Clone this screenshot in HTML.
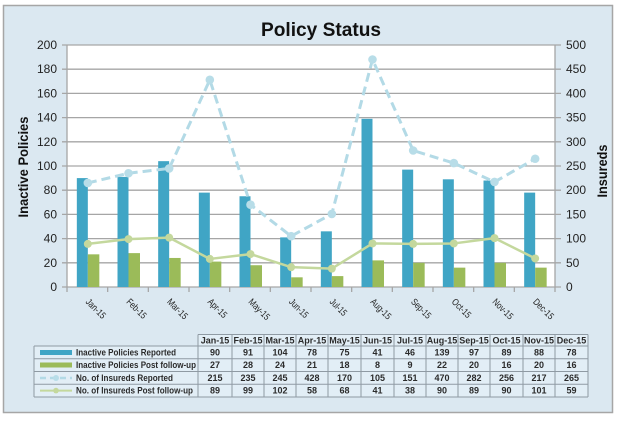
<!DOCTYPE html>
<html>
<head>
<meta charset="utf-8">
<style>
html,body{margin:0;padding:0;background:#ffffff;}
svg{display:block;}
text{font-family:"Liberation Sans",Arial,sans-serif;}
</style>
</head>
<body>
<svg width="620" height="424" viewBox="0 0 620 424" xmlns="http://www.w3.org/2000/svg">
  <rect x="0" y="0" width="620" height="424" fill="#ffffff"/>
  <rect x="3.5" y="5.5" width="609" height="407" fill="#dbe8f1" stroke="#a6a6a6" stroke-width="1.5"/>

  <!-- Title -->
  <text x="321" y="36" text-anchor="middle" font-size="19.5" font-weight="bold" fill="#111" textLength="120" lengthAdjust="spacingAndGlyphs">Policy Status</text>

  <!-- Plot area -->
  <rect x="67" y="45" width="488" height="242" fill="#ffffff"/>
  <g stroke="#a6a6a6" stroke-width="1.3">
    <line x1="62" y1="287" x2="561" y2="287"/>
    <line x1="62" y1="262.8" x2="561" y2="262.8"/>
    <line x1="62" y1="238.6" x2="561" y2="238.6"/>
    <line x1="62" y1="214.4" x2="561" y2="214.4"/>
    <line x1="62" y1="190.2" x2="561" y2="190.2"/>
    <line x1="62" y1="166" x2="561" y2="166"/>
    <line x1="62" y1="141.8" x2="561" y2="141.8"/>
    <line x1="62" y1="117.6" x2="561" y2="117.6"/>
    <line x1="62" y1="93.4" x2="561" y2="93.4"/>
    <line x1="62" y1="69.2" x2="561" y2="69.2"/>
    <line x1="62" y1="45" x2="561" y2="45"/>
    <line x1="67" y1="45" x2="67" y2="287"/>
    <line x1="555" y1="45" x2="555" y2="287"/>
    <!-- x ticks -->
    <line x1="67" y1="287" x2="67" y2="292"/>
    <line x1="107.67" y1="287" x2="107.67" y2="292"/>
    <line x1="148.33" y1="287" x2="148.33" y2="292"/>
    <line x1="189" y1="287" x2="189" y2="292"/>
    <line x1="229.67" y1="287" x2="229.67" y2="292"/>
    <line x1="270.33" y1="287" x2="270.33" y2="292"/>
    <line x1="311" y1="287" x2="311" y2="292"/>
    <line x1="351.67" y1="287" x2="351.67" y2="292"/>
    <line x1="392.33" y1="287" x2="392.33" y2="292"/>
    <line x1="433" y1="287" x2="433" y2="292"/>
    <line x1="473.67" y1="287" x2="473.67" y2="292"/>
    <line x1="514.33" y1="287" x2="514.33" y2="292"/>
    <line x1="555" y1="287" x2="555" y2="292"/>
  </g>

  <!-- Left tick labels -->
  <g font-size="12" fill="#222" text-anchor="end">
    <text x="57" y="291">0</text>
    <text x="57" y="266.8">20</text>
    <text x="57" y="242.6">40</text>
    <text x="57" y="218.4">60</text>
    <text x="57" y="194.2">80</text>
    <text x="57" y="170">100</text>
    <text x="57" y="145.8">120</text>
    <text x="57" y="121.6">140</text>
    <text x="57" y="97.4">160</text>
    <text x="57" y="73.2">180</text>
    <text x="57" y="49">200</text>
  </g>
  <!-- Right tick labels -->
  <g font-size="12" fill="#222" text-anchor="start">
    <text x="566" y="291">0</text>
    <text x="566" y="266.8">50</text>
    <text x="566" y="242.6">100</text>
    <text x="566" y="218.4">150</text>
    <text x="566" y="194.2">200</text>
    <text x="566" y="170">250</text>
    <text x="566" y="145.8">300</text>
    <text x="566" y="121.6">350</text>
    <text x="566" y="97.4">400</text>
    <text x="566" y="73.2">450</text>
    <text x="566" y="49">500</text>
  </g>

  <!-- Axis titles -->
  <text transform="translate(28,167) rotate(-90)" text-anchor="middle" font-size="14" font-weight="bold" fill="#111" textLength="101" lengthAdjust="spacingAndGlyphs">Inactive Policies</text>
  <text transform="translate(607,171) rotate(-90)" text-anchor="middle" font-size="14" font-weight="bold" fill="#111" textLength="53" lengthAdjust="spacingAndGlyphs">Insureds</text>

  <!-- Blue bars -->
  <g fill="#40a5c5">
    <rect x="76.83" y="178.1" width="11" height="108.9"/>
    <rect x="117.5" y="176.89" width="11" height="110.11"/>
    <rect x="158.17" y="161.16" width="11" height="125.84"/>
    <rect x="198.83" y="192.62" width="11" height="94.38"/>
    <rect x="239.5" y="196.25" width="11" height="90.75"/>
    <rect x="280.17" y="237.39" width="11" height="49.61"/>
    <rect x="320.83" y="231.34" width="11" height="55.66"/>
    <rect x="361.5" y="118.81" width="11" height="168.19"/>
    <rect x="402.17" y="169.63" width="11" height="117.37"/>
    <rect x="442.83" y="179.31" width="11" height="107.69"/>
    <rect x="483.5" y="180.52" width="11" height="106.48"/>
    <rect x="524.17" y="192.62" width="11" height="94.38"/>
  </g>
  <!-- Green bars -->
  <g fill="#9bbb59">
    <rect x="87.83" y="254.33" width="11.5" height="32.67"/>
    <rect x="128.5" y="253.12" width="11.5" height="33.88"/>
    <rect x="169.17" y="257.96" width="11.5" height="29.04"/>
    <rect x="209.83" y="261.59" width="11.5" height="25.41"/>
    <rect x="250.5" y="265.22" width="11.5" height="21.78"/>
    <rect x="291.17" y="277.32" width="11.5" height="9.68"/>
    <rect x="331.83" y="276.11" width="11.5" height="10.89"/>
    <rect x="372.5" y="260.38" width="11.5" height="26.62"/>
    <rect x="413.17" y="262.8" width="11.5" height="24.2"/>
    <rect x="453.83" y="267.64" width="11.5" height="19.36"/>
    <rect x="494.5" y="262.8" width="11.5" height="24.2"/>
    <rect x="535.17" y="267.64" width="11.5" height="19.36"/>
  </g>

  <!-- Insureds Reported dashed line -->
  <polyline fill="none" stroke="#b3dae6" stroke-width="3" stroke-dasharray="9,5" stroke-linejoin="round"
    points="87.83,182.94 128.5,173.26 169.17,168.42 209.83,79.85 250.5,204.72 291.17,236.18 331.83,213.92 372.5,59.52 413.17,150.51 453.83,163.1 494.5,181.97 535.17,158.74"/>
  <g fill="#b8dde8">
    <circle cx="87.83" cy="182.94" r="4.3"/>
    <circle cx="128.5" cy="173.26" r="4.3"/>
    <circle cx="169.17" cy="168.42" r="4.3"/>
    <circle cx="209.83" cy="79.85" r="4.3"/>
    <circle cx="250.5" cy="204.72" r="4.3"/>
    <circle cx="291.17" cy="236.18" r="4.3"/>
    <circle cx="331.83" cy="213.92" r="4.3"/>
    <circle cx="372.5" cy="59.52" r="4.3"/>
    <circle cx="413.17" cy="150.51" r="4.3"/>
    <circle cx="453.83" cy="163.1" r="4.3"/>
    <circle cx="494.5" cy="181.97" r="4.3"/>
    <circle cx="535.17" cy="158.74" r="4.3"/>
  </g>

  <!-- Insureds Post follow-up line -->
  <polyline fill="none" stroke="#c4d89d" stroke-width="2.5" stroke-linejoin="round"
    points="87.83,243.92 128.5,239.08 169.17,237.63 209.83,258.93 250.5,254.09 291.17,267.16 331.83,268.61 372.5,243.44 413.17,243.92 453.83,243.44 494.5,238.12 535.17,258.44"/>
  <g fill="#c4d89d">
    <circle cx="87.83" cy="243.92" r="4"/>
    <circle cx="128.5" cy="239.08" r="4"/>
    <circle cx="169.17" cy="237.63" r="4"/>
    <circle cx="209.83" cy="258.93" r="4"/>
    <circle cx="250.5" cy="254.09" r="4"/>
    <circle cx="291.17" cy="267.16" r="4"/>
    <circle cx="331.83" cy="268.61" r="4"/>
    <circle cx="372.5" cy="243.44" r="4"/>
    <circle cx="413.17" cy="243.92" r="4"/>
    <circle cx="453.83" cy="243.44" r="4"/>
    <circle cx="494.5" cy="238.12" r="4"/>
    <circle cx="535.17" cy="258.44" r="4"/>
  </g>

  <!-- X labels -->
  <g font-size="9.5" fill="#222">
    <text transform="translate(87.5,300) rotate(45)" dy="0.35em" textLength="24" lengthAdjust="spacingAndGlyphs">Jan-15</text>
    <text transform="translate(128.2,300) rotate(45)" dy="0.35em" textLength="24" lengthAdjust="spacingAndGlyphs">Feb-15</text>
    <text transform="translate(168.8,300) rotate(45)" dy="0.35em" textLength="25" lengthAdjust="spacingAndGlyphs">Mar-15</text>
    <text transform="translate(209.5,300) rotate(45)" dy="0.35em" textLength="23" lengthAdjust="spacingAndGlyphs">Apr-15</text>
    <text transform="translate(250.2,300) rotate(45)" dy="0.35em" textLength="26" lengthAdjust="spacingAndGlyphs">May-15</text>
    <text transform="translate(290.8,300) rotate(45)" dy="0.35em" textLength="23" lengthAdjust="spacingAndGlyphs">Jun-15</text>
    <text transform="translate(331.5,300) rotate(45)" dy="0.35em" textLength="20" lengthAdjust="spacingAndGlyphs">Jul-15</text>
    <text transform="translate(372.2,300) rotate(45)" dy="0.35em" textLength="25" lengthAdjust="spacingAndGlyphs">Aug-15</text>
    <text transform="translate(412.8,300) rotate(45)" dy="0.35em" textLength="24" lengthAdjust="spacingAndGlyphs">Sep-15</text>
    <text transform="translate(453.5,300) rotate(45)" dy="0.35em" textLength="23" lengthAdjust="spacingAndGlyphs">Oct-15</text>
    <text transform="translate(494.2,300) rotate(45)" dy="0.35em" textLength="25" lengthAdjust="spacingAndGlyphs">Nov-15</text>
    <text transform="translate(534.8,300) rotate(45)" dy="0.35em" textLength="25" lengthAdjust="spacingAndGlyphs">Dec-15</text>
  </g>

  <!-- Data table -->
  <rect x="198" y="334.5" width="390" height="11.5" fill="#e2eef6"/>
  <rect x="34" y="346" width="554" height="51" fill="#e2eef6"/>
  <g stroke="#8f9aa3" stroke-width="1" fill="none">
    <!-- header box -->
    <line x1="198" y1="334.5" x2="588" y2="334.5"/>
    <line x1="34" y1="346" x2="588" y2="346"/>
    <line x1="34" y1="358.75" x2="588" y2="358.75"/>
    <line x1="34" y1="371.5" x2="588" y2="371.5"/>
    <line x1="34" y1="384.25" x2="588" y2="384.25"/>
    <line x1="34" y1="397" x2="588" y2="397"/>
    <line x1="34" y1="346" x2="34" y2="397"/>
    <line x1="198" y1="334.5" x2="198" y2="397"/>
    <line x1="232" y1="334.5" x2="232" y2="397"/>
    <line x1="264" y1="334.5" x2="264" y2="397"/>
    <line x1="296" y1="334.5" x2="296" y2="397"/>
    <line x1="328" y1="334.5" x2="328" y2="397"/>
    <line x1="361" y1="334.5" x2="361" y2="397"/>
    <line x1="394" y1="334.5" x2="394" y2="397"/>
    <line x1="426" y1="334.5" x2="426" y2="397"/>
    <line x1="458" y1="334.5" x2="458" y2="397"/>
    <line x1="490" y1="334.5" x2="490" y2="397"/>
    <line x1="523" y1="334.5" x2="523" y2="397"/>
    <line x1="555" y1="334.5" x2="555" y2="397"/>
    <line x1="588" y1="334.5" x2="588" y2="397"/>
  </g>

  <!-- legend keys -->
  <rect x="40" y="350" width="32" height="5" fill="#40a5c5"/>
  <rect x="40" y="362.5" width="32" height="5" fill="#9bbb59"/>
  <line x1="40" y1="378" x2="72" y2="378" stroke="#b3dae6" stroke-width="2.5" stroke-dasharray="6,4"/>
  <circle cx="56" cy="378" r="3" fill="#b8dde8"/>
  <line x1="40" y1="390.6" x2="72" y2="390.6" stroke="#c4d89d" stroke-width="2"/>
  <circle cx="56" cy="390.6" r="2.8" fill="#c4d89d"/>

  <g font-size="9" font-weight="bold" fill="#2b2b2b">
    <text x="76" y="355.5" textLength="100" lengthAdjust="spacingAndGlyphs">Inactive Policies Reported</text>
    <text x="76" y="368.2" textLength="120" lengthAdjust="spacingAndGlyphs">Inactive Policies Post follow-up</text>
    <text x="76" y="381" textLength="97" lengthAdjust="spacingAndGlyphs">No. of Insureds Reported</text>
    <text x="76" y="393.7" textLength="117" lengthAdjust="spacingAndGlyphs">No. of Insureds Post follow-up</text>
  </g>

  <g font-size="9" font-weight="bold" fill="#2b2b2b" text-anchor="middle">
    <!-- header -->
    <text x="215" y="343.5">Jan-15</text>
    <text x="248" y="343.5">Feb-15</text>
    <text x="280" y="343.5">Mar-15</text>
    <text x="312" y="343.5">Apr-15</text>
    <text x="344.5" y="343.5">May-15</text>
    <text x="377.5" y="343.5">Jun-15</text>
    <text x="410" y="343.5">Jul-15</text>
    <text x="442" y="343.5">Aug-15</text>
    <text x="474" y="343.5">Sep-15</text>
    <text x="506.5" y="343.5">Oct-15</text>
    <text x="539" y="343.5">Nov-15</text>
    <text x="571.5" y="343.5">Dec-15</text>
    <!-- row 1 -->
    <text x="215" y="355.5">90</text>
    <text x="248" y="355.5">91</text>
    <text x="280" y="355.5">104</text>
    <text x="312" y="355.5">78</text>
    <text x="344.5" y="355.5">75</text>
    <text x="377.5" y="355.5">41</text>
    <text x="410" y="355.5">46</text>
    <text x="442" y="355.5">139</text>
    <text x="474" y="355.5">97</text>
    <text x="506.5" y="355.5">89</text>
    <text x="539" y="355.5">88</text>
    <text x="571.5" y="355.5">78</text>
    <!-- row 2 -->
    <text x="215" y="368.2">27</text>
    <text x="248" y="368.2">28</text>
    <text x="280" y="368.2">24</text>
    <text x="312" y="368.2">21</text>
    <text x="344.5" y="368.2">18</text>
    <text x="377.5" y="368.2">8</text>
    <text x="410" y="368.2">9</text>
    <text x="442" y="368.2">22</text>
    <text x="474" y="368.2">20</text>
    <text x="506.5" y="368.2">16</text>
    <text x="539" y="368.2">20</text>
    <text x="571.5" y="368.2">16</text>
    <!-- row 3 -->
    <text x="215" y="381">215</text>
    <text x="248" y="381">235</text>
    <text x="280" y="381">245</text>
    <text x="312" y="381">428</text>
    <text x="344.5" y="381">170</text>
    <text x="377.5" y="381">105</text>
    <text x="410" y="381">151</text>
    <text x="442" y="381">470</text>
    <text x="474" y="381">282</text>
    <text x="506.5" y="381">256</text>
    <text x="539" y="381">217</text>
    <text x="571.5" y="381">265</text>
    <!-- row 4 -->
    <text x="215" y="393.7">89</text>
    <text x="248" y="393.7">99</text>
    <text x="280" y="393.7">102</text>
    <text x="312" y="393.7">58</text>
    <text x="344.5" y="393.7">68</text>
    <text x="377.5" y="393.7">41</text>
    <text x="410" y="393.7">38</text>
    <text x="442" y="393.7">90</text>
    <text x="474" y="393.7">89</text>
    <text x="506.5" y="393.7">90</text>
    <text x="539" y="393.7">101</text>
    <text x="571.5" y="393.7">59</text>
  </g>
</svg>
</body>
</html>
